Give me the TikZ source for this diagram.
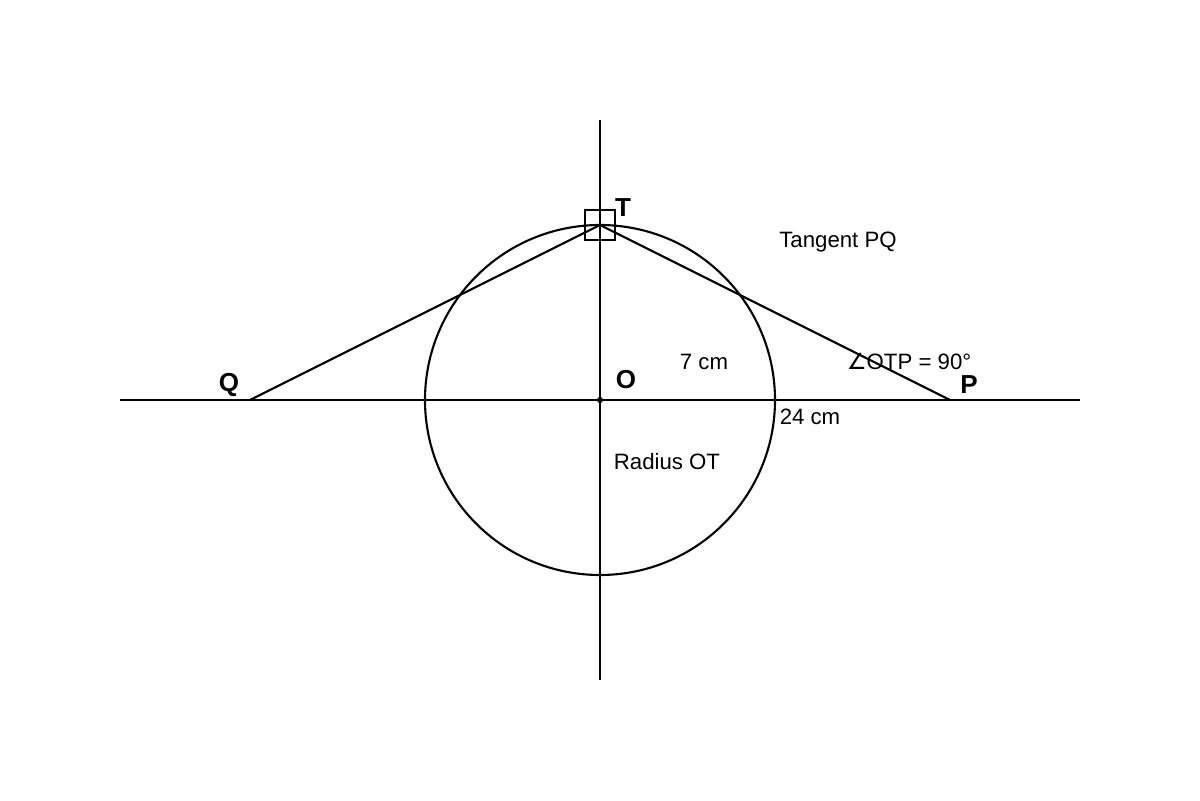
\documentclass[tikz,border=0pt]{standalone}
\usepackage{fontspec}
\setmainfont{Liberation Sans}
\newfontfamily\symfont{DejaVu Sans}
\usetikzlibrary{calc}
\tikzset{
	every label/.style={
		font=\fontsize{15.8}{19}\selectfont
	},
	point label/.style={
		font=\fontsize{18.5}{21}\selectfont\bfseries
	},
	geo line/.style={
		line width=1.5pt
	},
}

\begin{document}
\begin{tikzpicture}[x=0.025cm, y=0.025cm]

\useasboundingbox (-600,-400) rectangle (600,400);

\coordinate (O) at (0,0);
\coordinate (T) at (0,175);
\coordinate (Q) at (-350,0);
\coordinate (P) at (350,0);
\coordinate (left) at (-480,0);
\coordinate (right) at (480,0);
\coordinate (top) at (0,280);
\coordinate (bottom) at (0,-280);

\draw [geo line] (left) -- (right);
\draw [geo line] (top) -- (bottom);
\draw [geo line] (O) circle (175);

\draw [geo line] (Q) -- (T);
\draw [geo line] (T) -- (P);

\draw [line width=1.2pt] ($(T)+(-15,-15)$) rectangle ($(T)+(15,15)$);
\fill (O) circle (3);

\node [point label] (T-lab) at (23,192) {T};
\node [point label] (O-lab) at (26,20) {O};
\node [point label] (Q-lab) at (-371,15) {Q};
\node [point label] (P-lab) at (369,15) {P};

\node [every label/.try] (tangent) at (238,158) {Tangent PQ};
\node [every label/.try] (radius) at (104,38) {7 cm};
\node [every label/.try] (angle) at (309,38) {{\symfont\char"2220}OTP = 90°};
\node [every label/.try] (length) at (210,-17) {24 cm};
\node [every label/.try] (radiusOT) at (67,-62) {Radius OT};

\end{tikzpicture}
\end{document}
